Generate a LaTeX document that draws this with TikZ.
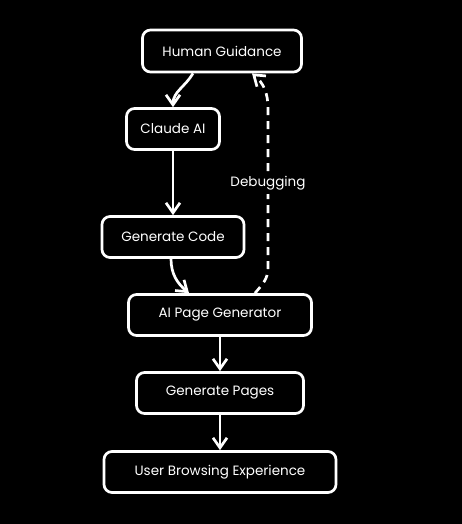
\documentclass[tikz,border=0pt]{standalone}
\usepackage{fontspec}
\setmainfont{Poppins}
\usetikzlibrary{shapes, arrows.meta, positioning}
\tikzstyle{box} = [rectangle, rounded corners=8pt, minimum height=41pt, text centered, draw=white, line width=2.7pt, text=white, fill=black, font=\fontsize{13.5}{16}\selectfont]
\tikzstyle{edge} = [draw=white, line width=2.7pt, ->, >={Straight Barb[length=10pt, width=14pt]}]
\tikzstyle{dashedge} = [edge, dash pattern=on 8pt off 6pt]

\begin{document}
\begin{tikzpicture}[node distance=78pt]

\fill [black] (-222pt,51pt) rectangle (240pt,-473pt);
\useasboundingbox (-222pt,51pt) rectangle (240pt,-473pt);

\node (human) [box, minimum width=159pt, minimum height=42pt] {Human Guidance};
\node (claude) [box, minimum width=93pt, below of=human, xshift=-49pt] {Claude AI};
\node (code) [box, minimum width=142pt, below of=claude, yshift=-30pt] {Generate Code};
\node (pagegen) [box, minimum width=183pt, below of=code, xshift=47pt] {AI Page Generator};
\node (pages) [box, minimum width=167pt, below of=pagegen] {Generate Pages};
\node (browse) [box, minimum width=232pt, below of=pages, yshift=-1pt] {User Browsing Experience};

\draw [edge] ([xshift=-29pt]human.south) to[out=-120, in=90] (claude.north);
\draw [edge] (claude.south) -- (claude.south |- code.north);
\draw [edge] ([xshift=-2pt]code.south) to[out=-90, in=140] ([xshift=-31pt]pagegen.north);
\draw [edge] (pagegen) -- (pages);
\draw [edge] (pages) -- (browse);
\draw [dashedge] ([xshift=35pt]pagegen.north) to[out=50, in=-90] ++(13pt,25pt) -- ++(0,160pt) node[pos=0.53, fill=black, text=white, font=\fontsize{13.5}{16}\selectfont]{Debugging} to[out=90, in=-40] ([xshift=30pt]human.south);

\end{tikzpicture}
\end{document}
